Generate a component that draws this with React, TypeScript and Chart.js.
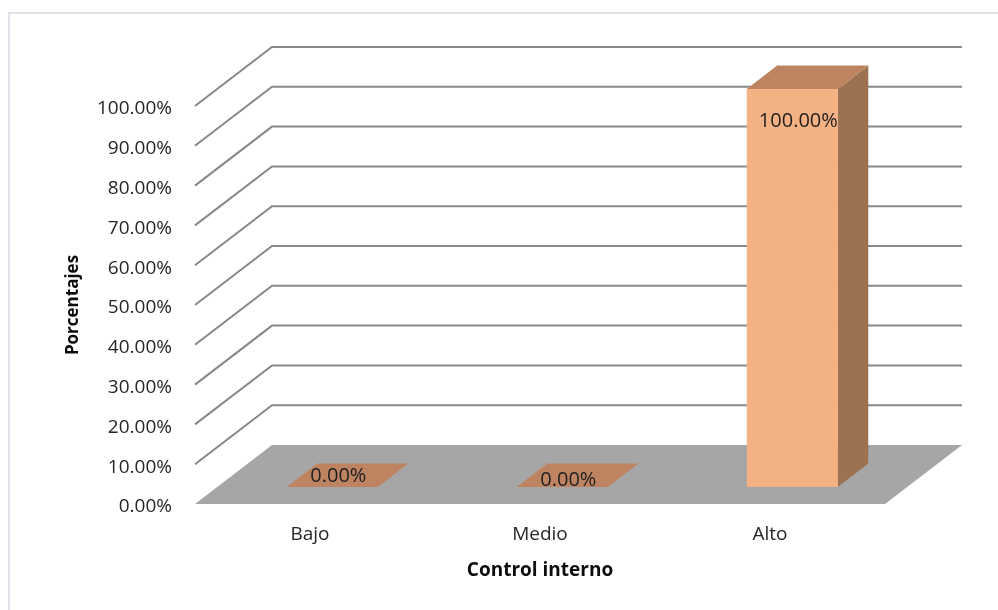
import React, { useEffect, useRef } from 'react';
import { Chart, registerables } from 'chart.js';

Chart.register(...registerables);

// ---- data ----
const categories = ['Bajo', 'Medio', 'Alto'];
const percentValues = [0, 0, 1];
const tickValues = [0, 0.1, 0.2, 0.3, 0.4, 0.5, 0.6, 0.7, 0.8, 0.9, 1];
const xTitle = 'Control interno';
const yTitle = 'Porcentajes';

// ---- 3D look ----
const DEPTH_X = 77;
const DEPTH_Y = 59;
const BAR_FRONT = 0.29;
const BAR_BACK = 0.685;
const FRONT_COLOR = '#F4B183';
const TOP_COLOR = '#BE8462';
const SIDE_COLOR = '#9C7252';
const FLOOR_COLOR = '#A6A6A6';
const GRID_COLOR = '#888888';

const fmt = (v: number) => (v * 100).toFixed(2) + '%';

const poly = (ctx: CanvasRenderingContext2D, pts: number[][], color: string) => {
  ctx.beginPath();
  ctx.moveTo(pts[0][0], pts[0][1]);
  for (let i = 1; i < pts.length; i++) ctx.lineTo(pts[i][0], pts[i][1]);
  ctx.closePath();
  ctx.fillStyle = color;
  ctx.fill();
};

const threeDPlugin = {
  id: 'threeD',
  beforeDraw(chart: any) {
    const ctx = chart.ctx;
    ctx.save();
    ctx.fillStyle = '#ffffff';
    ctx.fillRect(0, 0, chart.width, chart.height);
    ctx.strokeStyle = '#DEE2E9';
    ctx.lineWidth = 2;
    ctx.strokeRect(9, 13, chart.width + 20, chart.height + 20);
    ctx.restore();
  },
  beforeDatasetsDraw(chart: any) {
    const { ctx, chartArea: ca } = chart;
    const ys = chart.scales.y;
    ctx.save();
    ctx.strokeStyle = GRID_COLOR;
    ctx.lineWidth = 2;
    ys.ticks.forEach((t: any) => {
      if (t.value === 0) return;
      const py = ys.getPixelForValue(t.value);
      ctx.beginPath();
      ctx.moveTo(ca.left, py);
      ctx.lineTo(ca.left + DEPTH_X, py - DEPTH_Y);
      ctx.lineTo(ca.right + DEPTH_X, py - DEPTH_Y);
      ctx.stroke();
    });
    const y0 = ys.getPixelForValue(0);
    poly(
      ctx,
      [
        [ca.left, y0],
        [ca.left + DEPTH_X, y0 - DEPTH_Y],
        [ca.right + DEPTH_X, y0 - DEPTH_Y],
        [ca.right, y0],
      ],
      FLOOR_COLOR
    );
    ctx.restore();
  },
  afterDatasetsDraw(chart: any) {
    const ctx = chart.ctx;
    const meta = chart.getDatasetMeta(0);
    const fx = DEPTH_X * BAR_FRONT;
    const fy = DEPTH_Y * BAR_FRONT;
    const bx = DEPTH_X * BAR_BACK;
    const by = DEPTH_Y * BAR_BACK;
    ctx.save();
    meta.data.forEach((bar: any, i: number) => {
      const { x, y, base, width } = bar.getProps(['x', 'y', 'base', 'width'], true);
      const l = x - width / 2;
      const r = x + width / 2;
      const top = Math.min(y, base);
      const bottom = Math.max(y, base);
      const h = bottom - top;
      if (h > 0.5) {
        // side face
        poly(ctx, [
          [r + fx, top - fy],
          [r + bx, top - by],
          [r + bx, bottom - by],
          [r + fx, bottom - fy],
        ], SIDE_COLOR);
        // front face
        ctx.fillStyle = FRONT_COLOR;
        ctx.fillRect(l + fx, top - fy, width, h);
      }
      // top face
      poly(ctx, [
        [l + fx, top - fy],
        [l + bx, top - by],
        [r + bx, top - by],
        [r + fx, top - fy],
      ], TOP_COLOR);

      // data label
      const v = percentValues[i];
      ctx.fillStyle = '#1F1F1F';
      ctx.font = '20px "Open Sans"';
      ctx.textAlign = 'center';
      ctx.textBaseline = 'middle';
      const cx = x + fx + 6;
      const cy = h > 0.5 ? top - fy + 32 : bottom - fy - (i === 1 ? 7 : 11);
      ctx.fillText(fmt(v), cx, cy);
    });
    ctx.restore();
  },
};

export default function App() {
  const ref = useRef<HTMLCanvasElement | null>(null);
  useEffect(() => {
    document.body.style.margin = '0';
    const canvas = ref.current;
    if (!canvas) return;
    Chart.defaults.font.family = '"Open Sans"';
    const chart = new Chart(canvas, {
      type: 'bar',
      data: {
        labels: categories,
        datasets: [
          {
            data: percentValues,
            backgroundColor: 'rgba(0,0,0,0)',
            borderWidth: 0,
            barPercentage: 0.396,
            categoryPercentage: 1,
          },
        ],
      },
      options: {
        responsive: false,
        animation: false,
        devicePixelRatio: 1,
        layout: { padding: { top: 106, left: 60, right: 113, bottom: 28 } },
        plugins: { legend: { display: false }, tooltip: { enabled: false } },
        scales: {
          x: {
            grid: { display: false, tickLength: 0 },
            border: { display: false },
            ticks: { color: '#262626', font: { size: 19 }, padding: 19 },
            title: {
              display: true,
              text: xTitle,
              color: '#0D0D0D',
              font: { size: 19, weight: 'bold' },
              padding: { top: 0, bottom: 0 },
            },
            afterFit: (s: any) => {
              s.height = 78;
            },
          },
          y: {
            min: 0,
            max: 1,
            afterBuildTicks: (s: any) => {
              s.ticks = tickValues.map((v) => ({ value: v }));
            },
            grid: { display: false, tickLength: 0 },
            border: { display: false },
            ticks: {
              color: '#262626',
              font: { size: 19 },
              padding: 23,
              labelOffset: 3,
              callback: (v: any) => fmt(Number(v)),
            },
            title: {
              display: true,
              text: yTitle,
              color: '#0D0D0D',
              font: { size: 17, weight: 'bold' },
              padding: { top: 3, bottom: 0 },
            },
            afterFit: (s: any) => {
              s.width = 135;
            },
          },
        },
      },
      plugins: [threeDPlugin],
    } as any);
    return () => chart.destroy();
  }, []);
  return (
    <div style={{ width: 998, height: 610 }}>
      <canvas ref={ref} width={998} height={610} style={{ display: 'block' }} />
    </div>
  );
}
